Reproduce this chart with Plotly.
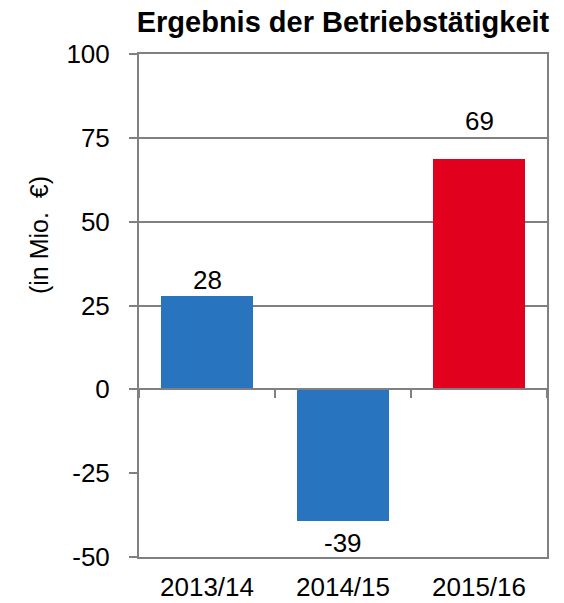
import plotly.graph_objects as go

title = "Ergebnis der Betriebstätigkeit"
categories = ["2013/14", "2014/15", "2015/16"]
values = [27.7, -39.3, 68.6]
labels = ["28", "-39", "69"]
bar_colors = ["#2874BE", "#2874BE", "#E2001F"]
y_ticks = [-50, -25, 0, 25, 50, 75, 100]
y_ticktext = ["-50", "-25", "0", "25", "50", "75", "100"]
grid_ticks = [25, 50, 75, 100]
y_title = "(in Mio.  €)"

GRAY = "#808080"
FONT = "Liberation Sans, Arial, sans-serif"
W, H = 564, 603

fig = go.Figure()
fig.add_trace(go.Bar(
    x=categories, y=values, marker=dict(color=bar_colors, line=dict(width=0)),
    width=0.67, showlegend=False, hoverinfo="skip",
))

# value labels
label_shift = [16, -22, 38]
for c, v, t, s in zip(categories, values, labels, label_shift):
    fig.add_annotation(x=c, y=v, text=t, showarrow=False, yshift=s,
                       font=dict(size=26, color="black", family=FONT))

n = len(categories)
boundaries = [i - 0.5 for i in range(n + 1)]

fig.update_layout(
    width=W, height=H,
    margin=dict(l=139, r=17, t=54, b=46),
    paper_bgcolor="white", plot_bgcolor="white",
    font=dict(family=FONT, size=26, color="black"),
    title=dict(text="<b>" + title + "</b>", x=0.5, xref="paper", xanchor="center",
               y=1 - 22 / H, yanchor="middle", font=dict(size=29, color="black")),
    bargap=0,
    xaxis=dict(
        type="category", range=[-0.5, n - 0.5], showline=True, mirror=True,
        linecolor=GRAY, linewidth=2, ticks="", showgrid=False, automargin=False,
        tickfont=dict(size=26), ticklabelstandoff=6,
    ),
    xaxis2=dict(
        overlaying="x", anchor="free", position=(0 - y_ticks[0]) / (y_ticks[-1] - y_ticks[0]),
        range=[-0.5, n - 0.5], tickvals=boundaries, showticklabels=False,
        showline=True, linecolor=GRAY, linewidth=2, ticks="outside", automargin=False,
        ticklen=8, tickwidth=2, tickcolor=GRAY, showgrid=False, zeroline=False,
    ),
    yaxis=dict(
        range=[y_ticks[0], y_ticks[-1]], tickvals=y_ticks, ticktext=y_ticktext,
        showline=True, mirror=True, automargin=False,
        linecolor=GRAY, linewidth=2, ticks="outside", ticklen=8, tickwidth=2,
        tickcolor=GRAY, showgrid=False, zeroline=False,
        tickfont=dict(size=26), ticklabelstandoff=14,
    ),
    yaxis2=dict(
        overlaying="y", range=[y_ticks[0], y_ticks[-1]], tickvals=grid_ticks,
        showticklabels=False, showgrid=True, gridcolor=GRAY, gridwidth=2,
        zeroline=False, showline=False, ticks="", automargin=False,
    ),
)

fig.add_trace(go.Scatter(x=[0], y=[0], xaxis="x2", yaxis="y2", mode="markers",
                         marker=dict(opacity=0), showlegend=False, hoverinfo="skip"))

fig.add_annotation(text=y_title, textangle=-90, showarrow=False,
                   xref="paper", x=(39 - 139) / 408, xanchor="center",
                   yref="y", y=46, yanchor="middle",
                   font=dict(size=25, color="black", family=FONT))

fig.write_html("out.html", config={"displayModeBar": False},
               post_script="document.body.style.margin='0';document.body.style.overflow='hidden';")
